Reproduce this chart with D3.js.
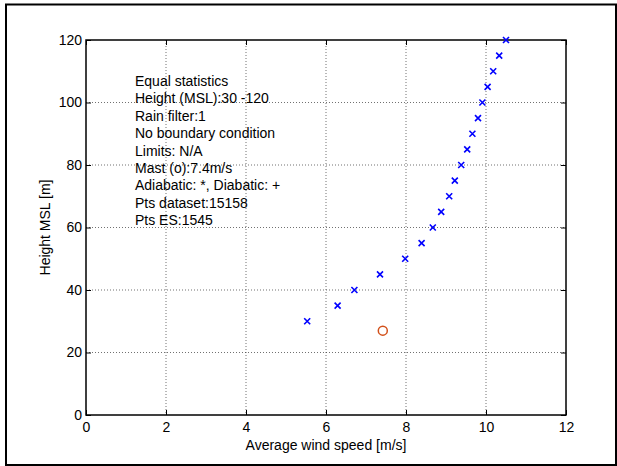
<!DOCTYPE html>
<html><head><meta charset="utf-8">
<script src="https://cdn.jsdelivr.net/npm/d3@7"></script>
<style>html,body{margin:0;padding:0;background:#fff;overflow:hidden}</style>
</head><body>
<svg id="c" width="617" height="466"></svg>
<script>
const heights = [30,35,40,45,50,55,60,65,70,75,80,85,90,95,100,105,110,115,120];
const windSpeeds = [5.53,6.29,6.71,7.35,7.98,8.39,8.67,8.88,9.08,9.22,9.38,9.53,9.66,9.8,9.91,10.04,10.18,10.33,10.5];
const mastSpeed = [7.42];
const mastHeight = [27];
const xTicks = [0,2,4,6,8,10,12];
const yTicks = [0,20,40,60,80,100,120];
const infoLines = ["Equal statistics","Height (MSL):30 -120","Rain filter:1","No boundary condition","Limits: N/A","Mast (o):7.4m/s","Adiabatic: *, Diabatic: +","Pts dataset:15158","Pts ES:1545"];

const svg = d3.select("#c");
const L=86,R=566,T=40,B=415;
const x = d3.scaleLinear().domain([0,12]).range([L,R]);
const y = d3.scaleLinear().domain([0,120]).range([B,T]);
const font = "Liberation Sans, Arial, sans-serif";
const fs = "14px";

svg.append("rect").attr("x",6).attr("y",4.5).attr("width",610).attr("height",460.5)
  .attr("fill","none").attr("stroke","#000").attr("stroke-width",2);

// grid
svg.append("g").selectAll("line").data(xTicks.slice(1,-1)).join("line")
  .attr("x1",d=>x(d)).attr("x2",d=>x(d)).attr("y1",T).attr("y2",B)
  .attr("stroke","#333").attr("stroke-width",0.7).attr("stroke-dasharray","1,2");
svg.append("g").selectAll("line").data(yTicks.slice(1,-1)).join("line")
  .attr("y1",d=>y(d)).attr("y2",d=>y(d)).attr("x1",L).attr("x2",R)
  .attr("stroke","#333").attr("stroke-width",0.7).attr("stroke-dasharray","1,2");

// axes
const axB = d3.axisBottom(x).tickValues(xTicks).tickSize(-5).tickPadding(7).tickFormat(d3.format("d"));
const axL = d3.axisLeft(y).tickValues(yTicks).tickSize(-5).tickPadding(4).tickFormat(d3.format("d"));
const axT = d3.axisTop(x).tickValues(xTicks).tickSize(-5).tickFormat("");
const axR = d3.axisRight(y).tickValues(yTicks).tickSize(-5).tickFormat("");
function style(sel){
  sel.select(".domain").remove();
  sel.selectAll(".tick line").attr("stroke","#000");
  sel.selectAll("text").attr("font-family",font).attr("font-size",fs).attr("fill","#000");
}
svg.append("g").attr("transform",`translate(0,${B})`).call(axB).call(style);
svg.append("g").attr("transform",`translate(${L},0)`).call(axL).call(style);
svg.append("g").attr("transform",`translate(0,${T})`).call(axT).call(style);
svg.append("g").attr("transform",`translate(${R},0)`).call(axR).call(style);
svg.append("rect").attr("x",L).attr("y",T).attr("width",R-L).attr("height",B-T)
  .attr("fill","none").attr("stroke","#000").attr("stroke-width",1.5);

// points
const pts = heights.map((h,i)=>({h,v:windSpeeds[i]}));
const s = 3;
svg.append("g").selectAll("path").data(pts).join("path")
  .attr("d",d=>`M${x(d.v)-s},${y(d.h)-s}L${x(d.v)+s},${y(d.h)+s}M${x(d.v)-s},${y(d.h)+s}L${x(d.v)+s},${y(d.h)-s}`)
  .attr("stroke","#0000ff").attr("stroke-width",1.6).attr("fill","none");
svg.append("g").selectAll("circle").data(mastSpeed.map((v,i)=>({v,h:mastHeight[i]}))).join("circle")
  .attr("cx",d=>x(d.v)).attr("cy",d=>y(d.h)).attr("r",4.5)
  .attr("fill","none").attr("stroke","#d2501a").attr("stroke-width",1.5);

// info text
svg.append("g").selectAll("text").data(infoLines).join("text")
  .attr("x",135).attr("y",(d,i)=>86+i*17.4).text(d=>d)
  .attr("font-family",font).attr("font-size",fs).attr("fill","#000");

// labels
svg.append("text").attr("x",(L+R)/2).attr("y",450).attr("text-anchor","middle")
  .attr("font-family",font).attr("font-size",fs).text("Average wind speed [m/s]");
svg.append("text").attr("transform",`translate(50,${(T+B)/2}) rotate(-90)`).attr("text-anchor","middle")
  .attr("font-family",font).attr("font-size",fs).text("Height MSL [m]");
</script>
</body></html>
